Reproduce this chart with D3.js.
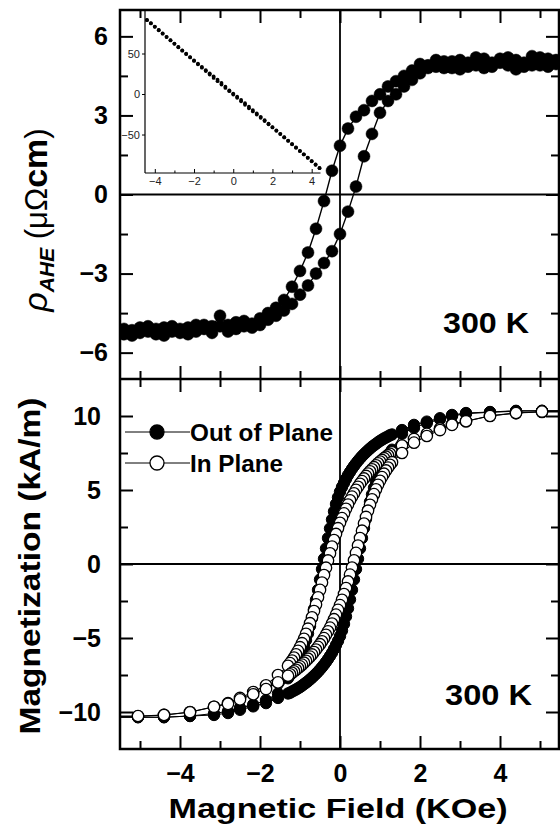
<!DOCTYPE html>
<html>
<head>
<meta charset="utf-8">
<script src="https://cdn.jsdelivr.net/npm/d3@7"></script>
<style>
body { margin: 0; background: #fff; }
text { font-family: "Liberation Sans", Arial, Helvetica, sans-serif; }
</style>
</head>
<body>
<script>
// ---- data ----
// top panel: anomalous Hall resistivity loop, field in kOe
var aheField = [5.4, 5.2, 5.0, 4.8, 4.6, 4.4, 4.2, 4.0, 3.8, 3.6, 3.4, 3.2, 3.0, 2.8, 2.6, 2.4, 2.2, 2.0, 1.8, 1.6,
  1.4, 1.2, 1.0, 0.8, 0.6, 0.4, 0.2, 0.0, -0.2, -0.4, -0.6, -0.8, -1.0, -1.2, -1.4, -1.6, -1.8, -2.0, -2.2, -2.4,
  -2.6, -2.8, -3.0, -3.2, -3.4, -3.6, -3.8, -4.0, -4.2, -4.4, -4.6, -4.8, -5.0, -5.2, -5.4];
var aheDown = [5.1, 4.85, 5.2, 4.9, 5.0, 4.75, 5.2, 5.0, 4.85, 5.15, 4.9, 5.0, 4.75, 5.05, 4.8, 5.1, 4.9, 4.95, 4.7, 4.5,
  4.3, 4.1, 3.8, 3.55, 3.2, 2.95, 2.5, 1.85, 0.9, -0.25, -1.3, -2.2, -2.9, -3.5, -4.0, -4.3, -4.5, -4.7, -4.9, -4.8,
  -5.1, -4.95, -4.6, -5.0, -4.95, -5.2, -5.05, -5.25, -5.0, -5.35, -5.1, -5.2, -5.05, -5.35, -5.1];
var aheUp = [4.95, 5.15, 4.9, 5.25, 4.85, 5.1, 4.9, 5.15, 5.0, 4.8, 5.2, 4.85, 5.1, 4.8, 5.05, 4.85, 4.8, 4.6, 4.35, 4.1,
  3.8, 3.55, 3.1, 2.3, 1.45, 0.3, -0.65, -1.5, -2.15, -2.6, -3.0, -3.45, -3.8, -4.15, -4.4, -4.6, -4.75, -4.95, -5.05, -5.0,
  -4.85, -5.2, -5.0, -5.25, -5.1, -4.95, -5.3, -5.1, -5.2, -5.05, -5.3, -5.0, -5.25, -5.15, -5.3];

// inset: total Hall resistivity
var insetField = [-4.4, -4.2, -4.0, -3.8, -3.6, -3.4, -3.2, -3.0, -2.8, -2.6, -2.4, -2.2, -2.0, -1.8, -1.6, -1.4, -1.2, -1.0,
  -0.8, -0.6, -0.4, -0.2, 0.0, 0.2, 0.4, 0.6, 0.8, 1.0, 1.2, 1.4, 1.6, 1.8, 2.0, 2.2, 2.4, 2.6, 2.8, 3.0, 3.2, 3.4,
  3.6, 3.8, 4.0, 4.2, 4.4];
var insetDown = [91.5, 87.5, 83.2, 79.0, 74.8, 70.6, 66.4, 62.2, 58.0, 53.8, 49.7, 45.6, 41.5, 37.4, 33.4, 29.4, 25.5, 21.6,
  17.7, 13.6, 9.0, 4.6, 0.6, -3.4, -7.3, -11.4, -15.6, -19.8, -24.0, -28.2, -32.4, -36.6, -40.8, -45.0, -49.2, -53.4,
  -57.6, -61.8, -66.0, -70.2, -74.4, -78.6, -82.8, -87.0, -91.2];
var insetUp = [91.2, 87.1, 82.9, 78.7, 74.5, 70.3, 66.1, 61.9, 57.7, 53.5, 49.3, 45.1, 40.9, 36.7, 32.5, 28.3, 24.1, 19.9,
  15.8, 11.6, 7.5, 3.5, -0.6, -4.6, -9.0, -13.4, -17.6, -21.5, -25.4, -29.3, -33.3, -37.3, -41.3, -45.4, -49.5, -53.6,
  -57.8, -62.0, -66.2, -70.4, -74.6, -78.8, -83.0, -87.3, -91.5];

// bottom panel: magnetization loops (kA/m), both branches on the same field list
var magField = [5.7, 5.05, 4.4, 3.75, 3.15, 2.8, 2.5, 2.17, 1.85, 1.55,
  1.30, 1.25, 1.20, 1.15, 1.10, 1.05, 1.00, 0.95, 0.90, 0.85, 0.80, 0.75, 0.70, 0.65, 0.60, 0.55, 0.50, 0.45, 0.40, 0.35,
  0.30, 0.25, 0.20, 0.15, 0.10, 0.05, 0.00, -0.05, -0.10, -0.15, -0.20, -0.25, -0.30, -0.35, -0.40, -0.45, -0.50, -0.55,
  -0.60, -0.65, -0.70, -0.75, -0.80, -0.85, -0.90, -0.95, -1.00, -1.05, -1.10, -1.15, -1.20, -1.25, -1.30,
  -1.55, -1.85, -2.17, -2.5, -2.8, -3.15, -3.75, -4.4, -5.05, -5.7];
var outDown = [10.36, 10.35, 10.35, 10.27, 10.2, 10.07, 9.85, 9.62, 9.4, 9.05,
  8.75, 8.70, 8.62, 8.55, 8.48, 8.40, 8.32, 8.22, 8.12, 8.02, 7.92, 7.80, 7.68, 7.55, 7.42, 7.28, 7.13, 6.97, 6.80, 6.62,
  6.43, 6.22, 6.00, 5.75, 5.48, 5.20, 4.88, 4.50, 4.05, 3.55, 3.00, 2.40, 1.75, 1.05, 0.35, -0.35, -1.05, -1.75,
  -2.42, -3.05, -3.65, -4.20, -4.70, -5.15, -5.55, -5.92, -6.25, -6.55, -6.82, -7.07, -7.30, -7.52, -7.72,
  -8.75, -9.2, -9.5, -9.72, -9.95, -10.1, -10.27, -10.35, -10.35, -10.36];
var outUp = [10.36, 10.35, 10.33, 10.25, 10.16, 10.0, 9.78, 9.52, 9.2, 8.8,
  7.72, 7.52, 7.30, 7.07, 6.82, 6.55, 6.25, 5.92, 5.55, 5.15, 4.70, 4.20, 3.65, 3.05, 2.42, 1.75, 1.05, 0.35, -0.35, -1.05,
  -1.75, -2.40, -3.00, -3.55, -4.05, -4.50, -4.88, -5.20, -5.48, -5.75, -6.00, -6.22, -6.43, -6.62, -6.80, -6.97, -7.13, -7.28,
  -7.42, -7.55, -7.68, -7.80, -7.92, -8.02, -8.12, -8.22, -8.32, -8.40, -8.48, -8.55, -8.62, -8.70, -8.75,
  -9.05, -9.4, -9.62, -9.85, -10.07, -10.2, -10.27, -10.35, -10.35, -10.36];
var inDown = [10.28, 10.27, 10.2, 10.02, 9.65, 9.45, 9.15, 8.8, 8.45, 8.0,
  7.55, 7.45, 7.35, 7.25, 7.15, 7.03, 6.92, 6.80, 6.67, 6.54, 6.40, 6.26, 6.11, 5.95, 5.78, 5.60, 5.42, 5.22, 5.01, 4.78,
  4.55, 4.30, 4.02, 3.73, 3.42, 3.10, 2.78, 2.42, 2.03, 1.62, 1.18, 0.72, 0.24, -0.25, -0.75, -1.25, -1.75, -2.25,
  -2.73, -3.18, -3.60, -4.00, -4.37, -4.72, -5.05, -5.35, -5.62, -5.87, -6.10, -6.32, -6.52, -6.70, -6.88,
  -7.5, -8.2, -8.65, -9.05, -9.4, -9.65, -10.0, -10.2, -10.3, -10.32];
var inUp = [10.32, 10.3, 10.2, 10.0, 9.65, 9.4, 9.05, 8.65, 8.2, 7.5,
  6.88, 6.70, 6.52, 6.32, 6.10, 5.87, 5.62, 5.35, 5.05, 4.72, 4.37, 4.00, 3.60, 3.18, 2.73, 2.25, 1.75, 1.25, 0.75, 0.25,
  -0.24, -0.72, -1.18, -1.62, -2.03, -2.42, -2.78, -3.10, -3.42, -3.73, -4.02, -4.30, -4.55, -4.78, -5.01, -5.22, -5.42, -5.60,
  -5.78, -5.95, -6.11, -6.26, -6.40, -6.54, -6.67, -6.80, -6.92, -7.03, -7.15, -7.25, -7.35, -7.45, -7.55,
  -8.0, -8.45, -8.8, -9.15, -9.45, -9.65, -10.02, -10.2, -10.27, -10.28];

var xMajor = [-4, -2, 0, 2, 4];
var xMinor = [-5, -3, -1, 1, 3, 5];
var topMajor = [-6, -3, 0, 3, 6];
var topMinor = [-4.5, -1.5, 1.5, 4.5];
var botMajor = [-10, -5, 0, 5, 10];
var botMinor = [-7.5, -2.5, 2.5, 7.5];
var insetXMajor = [-4, -2, 0, 2, 4];
var insetXMinor = [-3, -1, 1, 3];
var insetYMajor = [-50, 0, 50];

// ---- layout ----
var W = 560, H = 825;
var xLeft = 120, xRight = 559, yTopEdge = 10, yMid = 379, yBottom = 749;

var svg = d3.select("body").append("svg")
  .attr("width", W)
  .attr("height", H);

var x = d3.scaleLinear().domain([-5.5, 5.475]).range([xLeft, xRight]);
var yTop = d3.scaleLinear().domain([-7, 7]).range([yMid, yTopEdge]);
var yBot = d3.scaleLinear().domain([-12.5, 12.5]).range([yBottom, yMid]);

var xi = d3.scaleLinear().domain([-4.5, 4.45]).range([145, 320.5]);
var yi = d3.scaleLinear().domain([-97.5, 103.7]).range([173, 10]);

var defs = svg.append("defs");
defs.append("clipPath").attr("id", "clipTop").append("rect")
  .attr("x", xLeft).attr("y", yTopEdge).attr("width", xRight - xLeft).attr("height", yMid - yTopEdge);
defs.append("clipPath").attr("id", "clipBot").append("rect")
  .attr("x", xLeft).attr("y", yMid).attr("width", xRight - xLeft).attr("height", yBottom - yMid);

// zero lines
svg.append("line").attr("x1", xLeft).attr("x2", xRight).attr("y1", yTop(0)).attr("y2", yTop(0))
  .attr("stroke", "#000").attr("stroke-width", 2);
svg.append("line").attr("x1", xLeft).attr("x2", xRight).attr("y1", yBot(0)).attr("y2", yBot(0))
  .attr("stroke", "#000").attr("stroke-width", 2);
svg.append("line").attr("x1", x(0)).attr("x2", x(0)).attr("y1", yTopEdge).attr("y2", yBottom)
  .attr("stroke", "#000").attr("stroke-width", 1.8);

function branch(g, ys, field, vals, lw) {
  var pts = field.map(function(f, i) { return [f, vals[i]]; });
  g.append("path").datum(pts)
    .attr("fill", "none").attr("stroke", "#000").attr("stroke-width", lw)
    .attr("d", d3.line().x(function(d) { return x(d[0]); }).y(function(d) { return ys(d[1]); }));
  return pts;
}
function dots(g, ys, pts, r, fill, sw) {
  g.selectAll(null).data(pts).enter().append("circle")
    .attr("cx", function(d) { return x(d[0]); })
    .attr("cy", function(d) { return ys(d[1]); })
    .attr("r", r)
    .attr("fill", fill)
    .attr("stroke", "#000")
    .attr("stroke-width", sw);
}

// top panel data
var gTop = svg.append("g").attr("clip-path", "url(#clipTop)");
var pd = branch(gTop, yTop, aheField, aheDown, 1.4);
var pu = branch(gTop, yTop, aheField, aheUp, 1.4);
dots(gTop, yTop, pd, 6, "#000", 0.5);
dots(gTop, yTop, pu, 6, "#000", 0.5);

// bottom panel data
var gBot = svg.append("g").attr("clip-path", "url(#clipBot)");
var od = branch(gBot, yBot, magField, outDown, 1.1);
var ou = branch(gBot, yBot, magField, outUp, 1.1);
dots(gBot, yBot, od, 5.7, "#000", 1);
dots(gBot, yBot, ou, 5.7, "#000", 1);
var idn = branch(gBot, yBot, magField, inDown, 1.1);
var iup = branch(gBot, yBot, magField, inUp, 1.1);
dots(gBot, yBot, idn, 5.7, "#fff", 1.3);
dots(gBot, yBot, iup, 5.7, "#fff", 1.3);

// inset
var gIn = svg.append("g");
gIn.append("line").attr("x1", xi.range()[0]).attr("x2", xi.range()[0]).attr("y1", yTopEdge).attr("y2", yi.range()[0])
  .attr("stroke", "#000").attr("stroke-width", 1.2);
gIn.append("line").attr("x1", xi.range()[0]).attr("x2", xi.range()[1]).attr("y1", yi.range()[0]).attr("y2", yi.range()[0])
  .attr("stroke", "#000").attr("stroke-width", 1.2);
[insetDown, insetUp].forEach(function(vals) {
  gIn.selectAll(null).data(insetField.map(function(f, i) { return [f, vals[i]]; })).enter().append("circle")
    .attr("cx", function(d) { return xi(d[0]); })
    .attr("cy", function(d) { return yi(d[1]); })
    .attr("r", 1.9)
    .attr("fill", "#000");
});
function styleInset(g) {
  g.select(".domain").remove();
  g.selectAll("line").attr("stroke", "#000").attr("stroke-width", 1);
  g.selectAll("text").attr("font-size", 11).attr("fill", "#222")
    .attr("font-family", "'Liberation Sans', Arial, sans-serif");
}
gIn.append("g").attr("transform", "translate(0," + yi.range()[0] + ")")
  .call(d3.axisBottom(xi).tickValues(insetXMajor).tickSize(-4).tickPadding(4))
  .call(styleInset);
gIn.append("g").attr("transform", "translate(0," + yi.range()[0] + ")")
  .call(d3.axisBottom(xi).tickValues(insetXMinor).tickSize(-2.5).tickFormat(""))
  .call(styleInset);
gIn.append("g").attr("transform", "translate(" + xi.range()[0] + ",0)")
  .call(d3.axisLeft(yi).tickValues(insetYMajor).tickSize(3).tickPadding(2))
  .call(styleInset);

// frame
svg.append("rect").attr("x", xLeft).attr("y", yTopEdge).attr("width", xRight - xLeft).attr("height", yBottom - yTopEdge)
  .attr("fill", "none").attr("stroke", "#000").attr("stroke-width", 2.5);
svg.append("line").attr("x1", xLeft).attr("x2", xRight).attr("y1", yMid).attr("y2", yMid)
  .attr("stroke", "#000").attr("stroke-width", 2.5);

// axes with inward ticks
function styleAxis(g) {
  g.select(".domain").remove();
  g.selectAll("line").attr("stroke", "#000").attr("stroke-width", 2);
  g.selectAll("text").attr("font-size", 25).attr("font-weight", "bold").attr("fill", "#000")
    .attr("font-family", "'Liberation Sans', Arial, sans-serif");
}
function ax(axis, tx, ty) {
  svg.append("g").attr("transform", "translate(" + tx + "," + ty + ")").call(axis).call(styleAxis);
}
// top panel
ax(d3.axisTop(x).tickValues(xMajor).tickSize(-13).tickFormat(""), 0, yTopEdge);
ax(d3.axisTop(x).tickValues(xMinor).tickSize(-8).tickFormat(""), 0, yTopEdge);
ax(d3.axisBottom(x).tickValues(xMajor).tickSize(-13).tickFormat(""), 0, yMid);
ax(d3.axisBottom(x).tickValues(xMinor).tickSize(-8).tickFormat(""), 0, yMid);
ax(d3.axisLeft(yTop).tickValues(topMajor).tickSize(-13).tickPadding(12), xLeft, 0);
ax(d3.axisLeft(yTop).tickValues(topMinor).tickSize(-8).tickFormat(""), xLeft, 0);
ax(d3.axisRight(yTop).tickValues(topMajor).tickSize(-13).tickFormat(""), xRight, 0);
ax(d3.axisRight(yTop).tickValues(topMinor).tickSize(-8).tickFormat(""), xRight, 0);
// bottom panel
ax(d3.axisTop(x).tickValues(xMajor).tickSize(-13).tickFormat(""), 0, yMid);
ax(d3.axisTop(x).tickValues(xMinor).tickSize(-8).tickFormat(""), 0, yMid);
ax(d3.axisBottom(x).tickValues(xMajor).tickSize(-13).tickPadding(15), 0, yBottom);
ax(d3.axisBottom(x).tickValues(xMinor).tickSize(-8).tickFormat(""), 0, yBottom);
ax(d3.axisLeft(yBot).tickValues(botMajor).tickSize(-13).tickPadding(19), xLeft, 0);
ax(d3.axisLeft(yBot).tickValues(botMinor).tickSize(-8).tickFormat(""), xLeft, 0);
ax(d3.axisRight(yBot).tickValues(botMajor).tickSize(-13).tickFormat(""), xRight, 0);
ax(d3.axisRight(yBot).tickValues(botMinor).tickSize(-8).tickFormat(""), xRight, 0);

// legend
var legend = [
  { label: "Out of Plane", fill: "#000", y: 432, len: 143 },
  { label: "In Plane", fill: "#fff", y: 463, len: 93 }
];
legend.forEach(function(d) {
  svg.append("line").attr("x1", 125).attr("x2", 190).attr("y1", d.y).attr("y2", d.y)
    .attr("stroke", "#000").attr("stroke-width", 1);
  svg.append("circle").attr("cx", 157).attr("cy", d.y).attr("r", 7)
    .attr("fill", d.fill).attr("stroke", "#000").attr("stroke-width", 1.3);
  svg.append("text").attr("x", 190).attr("y", d.y + 8.5)
    .attr("font-size", 23).attr("font-weight", "bold")
    .attr("textLength", d.len).attr("lengthAdjust", "spacingAndGlyphs")
    .text(d.label);
});

// temperature labels
svg.append("text").attr("x", 443).attr("y", 333).attr("font-size", 30).attr("font-weight", "bold")
  .attr("textLength", 86).attr("lengthAdjust", "spacingAndGlyphs").text("300 K");
svg.append("text").attr("x", 445).attr("y", 705).attr("font-size", 30).attr("font-weight", "bold")
  .attr("textLength", 87).attr("lengthAdjust", "spacingAndGlyphs").text("300 K");

// axis titles
svg.append("text").attr("x", 338).attr("y", 818).attr("text-anchor", "middle")
  .attr("font-size", 28).attr("font-weight", "bold")
  .attr("textLength", 339).attr("lengthAdjust", "spacingAndGlyphs")
  .text("Magnetic Field (KOe)");

svg.append("text").attr("transform", "translate(40,566) rotate(-90)").attr("text-anchor", "middle")
  .attr("font-size", 29).attr("font-weight", "bold")
  .attr("textLength", 337).attr("lengthAdjust", "spacingAndGlyphs")
  .text("Magnetization (kA/m)");

var yl = svg.append("text").attr("transform", "translate(47,220) rotate(-90)").attr("text-anchor", "middle");
yl.append("tspan").attr("font-size", 34).attr("font-style", "italic").text("ρ");
yl.append("tspan").attr("font-size", 21).attr("font-style", "italic").attr("font-weight", "bold").attr("dy", 7).text("AHE");
yl.append("tspan").attr("font-size", 31).attr("dy", -7).text(" (μΩ");
yl.append("tspan").attr("font-size", 34).attr("font-weight", "bold").text("cm");
yl.append("tspan").attr("font-size", 31).text(")");
</script>
</body>
</html>
